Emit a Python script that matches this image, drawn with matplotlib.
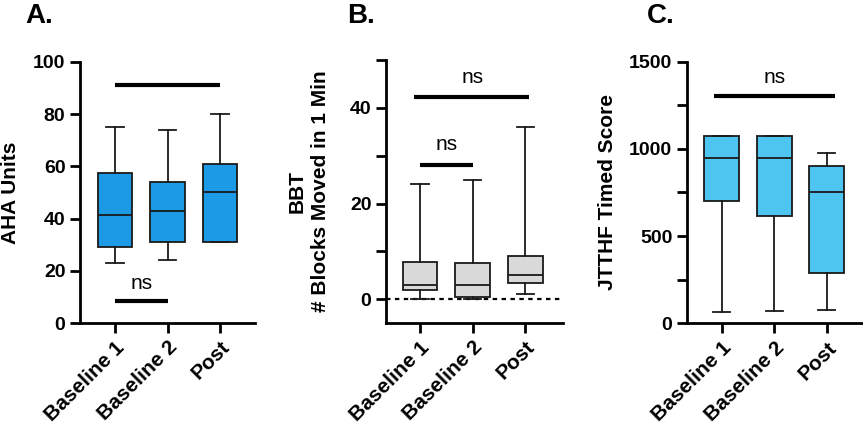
import numpy as np
import matplotlib
matplotlib.use('Agg')
import matplotlib.pyplot as plt

plt.rcParams['font.family'] = ['Liberation Sans', 'DejaVu Sans']

groups = ['Baseline 1', 'Baseline 2', 'Post']

# box stats: whisker low, Q1, median, Q3, whisker high
aha_lo = [23, 24, 31]
aha_q1 = [29, 31, 31]
aha_med = [41.5, 43, 50]
aha_q3 = [57.5, 54, 61]
aha_hi = [75, 74, 80]

bbt_lo = [0, 0, 1]
bbt_q1 = [2, 0.4, 3.3]
bbt_med = [2.9, 3, 5]
bbt_q3 = [7.7, 7.5, 9]
bbt_hi = [24, 25, 36]

jt_lo = [67, 72, 78]
jt_q1 = [699, 617, 290]
jt_med = [947, 945, 754]
jt_q3 = [1073, 1073, 903]
jt_hi = [1073, 1073, 976]


def stats(lo, q1, med, q3, hi):
    out = []
    for i in range(len(lo)):
        out.append(dict(whislo=lo[i], q1=q1[i], med=med[i], q3=q3[i], whishi=hi[i], fliers=[]))
    return out


def draw(ax, st, color):
    edge = '#1a1a1a'
    ax.bxp(st, positions=range(len(st)), widths=0.66, patch_artist=True, showfliers=False,
           boxprops=dict(facecolor=color, edgecolor=edge, linewidth=1.3),
           medianprops=dict(color=edge, linewidth=1.3),
           whiskerprops=dict(color=edge, linewidth=1.3),
           capprops=dict(color=edge, linewidth=1.3))
    ax.spines['top'].set_visible(False)
    ax.spines['right'].set_visible(False)
    ax.spines['left'].set_linewidth(2)
    ax.spines['bottom'].set_linewidth(2)
    ax.tick_params(axis='both', width=2, length=7, labelsize=14)
    ax.set_xticks(range(len(groups)))
    ax.set_xticklabels(groups, rotation=45, ha='right', va='top', rotation_mode='anchor',
                       fontsize=15, fontweight='bold')


def sigbar(ax, x0, x1, y):
    ax.plot([x0, x1], [y, y], color='black', linewidth=3, solid_capstyle='butt', clip_on=False)


fig = plt.figure(figsize=(8.63, 4.24), dpi=100)

# A
axA = fig.add_axes([0.0927, 0.2382, 0.2028, 0.6156])
draw(axA, stats(aha_lo, aha_q1, aha_med, aha_q3, aha_hi), '#1c9ae6')
axA.set_ylim(0, 100)
axA.set_xlim(-0.67, 2.67)
axA.set_yticks([0, 20, 40, 60, 80, 100])
axA.set_yticklabels(['0', '20', '40', '60', '80', '100'], fontweight='bold')
axA.set_ylabel('AHA Units', fontsize=15, fontweight='bold')
axA.yaxis.set_label_coords(-0.34, 0.5)
sigbar(axA, 0, 2, 91)
sigbar(axA, 0, 1, 8.5)
axA.text(0.5, 13, 'ns', ha='center', va='baseline', fontsize=15)

# B
axB = fig.add_axes([0.4473, 0.2382, 0.2051, 0.620])
draw(axB, stats(bbt_lo, bbt_q1, bbt_med, bbt_q3, bbt_hi), '#d9d9d9')
axB.set_ylim(-5, 50)
axB.set_xlim(-0.65, 2.72)
axB.set_yticks([0, 10, 20, 30, 40, 50])
axB.set_yticklabels(['0', '', '20', '', '40', ''], fontweight='bold')
axB.axhline(0, color='black', linewidth=1.6, linestyle=(0, (2, 2)), zorder=0.5)
axB.set_ylabel('BBT\n# Blocks Moved in 1 Min', fontsize=15, fontweight='bold', linespacing=1.3)
axB.yaxis.set_label_coords(-0.316, 0.5)
sigbar(axB, -0.12, 2.07, 42.3)
sigbar(axB, 0, 1, 28.1)
axB.text(1, 45.3, 'ns', ha='center', va='baseline', fontsize=15)
axB.text(0.5, 31.2, 'ns', ha='center', va='baseline', fontsize=15)

# C
axC = fig.add_axes([0.796, 0.2375, 0.2028, 0.617])
draw(axC, stats(jt_lo, jt_q1, jt_med, jt_q3, jt_hi), '#4dc5f0')
axC.set_ylim(0, 1500)
axC.set_xlim(-0.66, 2.67)
axC.set_yticks([0, 250, 500, 750, 1000, 1250, 1500])
axC.set_yticklabels(['0', '', '500', '', '1000', '', '1500'], fontweight='bold')
axC.set_ylabel('JTTHF Timed Score', fontsize=15, fontweight='bold')
axC.yaxis.set_label_coords(-0.40, 0.5)
sigbar(axC, -0.15, 2.15, 1301)
axC.text(1, 1375, 'ns', ha='center', va='baseline', fontsize=15)

for x, t in [(25, 'A.'), (347, 'B.'), (647, 'C.')]:
    fig.text(x / 863, 1 - 23 / 424, t, fontsize=20, fontweight='bold', ha='left', va='baseline')

fig.savefig('out.png', dpi=100)
